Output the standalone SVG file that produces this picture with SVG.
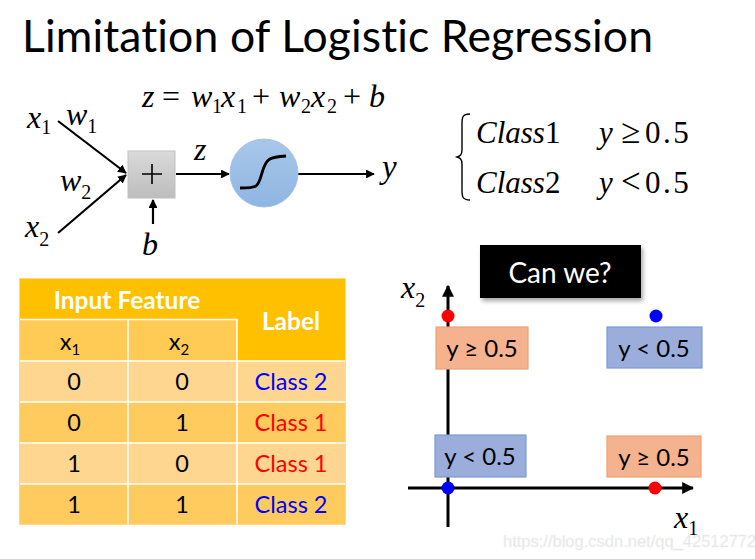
<svg xmlns="http://www.w3.org/2000/svg" width="755" height="559" viewBox="0 0 755 559">
  <style>
    text { font-variant-ligatures: none; }
    .math { font-family: "Liberation Serif", "DejaVu Serif", serif; font-style: italic; fill: #000; }
    .up { font-family: "Liberation Serif", "DejaVu Serif", serif; font-style: normal; }
    .sans { font-family: Lato, "Open Sans", sans-serif; }
    .hdr { font-family: Lato, "Open Sans", sans-serif; font-weight: bold; fill: #fff; font-size: 24.5px; text-anchor: middle; }
    .cell { font-family: Lato, "Open Sans", sans-serif; font-size: 23.5px; fill: #000; text-anchor: middle; }
    .cell.c1 { fill: #FF0000; }
    .cell.c2 { fill: #0000FF; }
    .wire { stroke: #000; stroke-width: 2.2; fill: none; }
    .axis { stroke: #000; stroke-width: 3; fill: none; }
    .lbl { font-family: Lato, "Open Sans", sans-serif; font-size: 24px; fill: #000; text-anchor: middle; }
    .orange { fill: #F4B28F; stroke: #F0A070; stroke-width: 1.2; }
    .blue { fill: #9AADDB; stroke: #7B9BD8; stroke-width: 1.2; }
    .num { letter-spacing: 2.5px; }
    .rel { font-size: 35px; }
  </style>
  <defs>
    <marker id="arrow" viewBox="0 0 10 10" refX="9" refY="5" markerWidth="4" markerHeight="4" orient="auto-start-reverse" markerUnits="strokeWidth">
      <path d="M0,0 L10,5 L0,10 z" fill="#000"/>
    </marker>
    <linearGradient id="gray" x1="0" y1="0" x2="0" y2="1">
      <stop offset="0" stop-color="#DADADA"/>
      <stop offset="1" stop-color="#BDBDBD"/>
    </linearGradient>
    <linearGradient id="sky" x1="0" y1="0" x2="0" y2="1">
      <stop offset="0" stop-color="#A8C8EA"/>
      <stop offset="1" stop-color="#8FB5E2"/>
    </linearGradient>
    <filter id="shadow" x="-10%" y="-10%" width="125%" height="140%">
      <feDropShadow dx="2" dy="3" stdDeviation="2" flood-color="#000" flood-opacity="0.35"/>
    </filter>
  </defs>

  <!-- title -->
  <text id="title" x="22" y="52" class="sans" font-size="44.5" fill="#000" textLength="631" lengthAdjust="spacing">Limitation of Logistic Regression</text>

  <!-- neuron formula: z = w1x1 + w2x2 + b -->
  <text class="math" y="107" font-size="32"><tspan x="142">z</tspan><tspan class="up" x="162">=</tspan><tspan x="191">w</tspan><tspan class="up" x="212" y="113" font-size="20">1</tspan><tspan x="221" y="107">x</tspan><tspan class="up" x="237" y="113" font-size="20">1</tspan><tspan class="up" x="252" y="107">+</tspan><tspan x="279">w</tspan><tspan class="up" x="301" y="113" font-size="20">2</tspan><tspan x="311" y="107">x</tspan><tspan class="up" x="327" y="113" font-size="20">2</tspan><tspan class="up" x="343" y="107">+</tspan><tspan x="369">b</tspan></text>

  <!-- neuron connectors -->
  <g id="connectors">
    <line class="wire" x1="58" y1="121" x2="126" y2="173" marker-end="url(#arrow)"/>
    <line class="wire" x1="58" y1="233" x2="126" y2="175" marker-end="url(#arrow)"/>
    <line class="wire" x1="153" y1="224" x2="153" y2="200" marker-end="url(#arrow)"/>
    <line class="wire" x1="176" y1="174" x2="229" y2="174" marker-end="url(#arrow)"/>
    <line class="wire" x1="298" y1="174" x2="374" y2="174" marker-end="url(#arrow)"/>
  </g>

  <g id="input-x1">
    <text class="math" x="27" y="128" font-size="32">x<tspan class="up" font-size="20" dy="6">1</tspan></text>
  </g>
  <g id="weight-w1">
    <text class="math" x="66" y="125" font-size="32">w<tspan class="up" font-size="20" dy="8">1</tspan></text>
  </g>
  <g id="weight-w2">
    <text class="math" x="60" y="191" font-size="32">w<tspan class="up" font-size="20" dy="8">2</tspan></text>
  </g>
  <g id="input-x2">
    <text class="math" x="25" y="237" font-size="32">x<tspan class="up" font-size="20" dy="9">2</tspan></text>
  </g>
  <g id="bias">
    <text class="math" x="142" y="255" font-size="32">b</text>
  </g>

  <g id="sum">
    <rect x="128" y="151" width="47" height="47" fill="url(#gray)" stroke="#BFBFBF" stroke-width="1"/>
    <path d="M152,164 V184 M142,174 H162" stroke="#000" stroke-width="1.6"/>
  </g>
  <text class="math" x="194" y="160" font-size="32">z</text>

  <g id="activation">
    <circle cx="264" cy="173" r="34" fill="url(#sky)" stroke="#A6C3E6" stroke-width="1"/>
    <path d="M240,188 C258,188 258,187 262,173 C266,158 270,157 286,156" fill="none" stroke="#000" stroke-width="2.8"/>
  </g>
  <g id="output-y">
    <text class="math" x="382" y="178" font-size="33">y</text>
  </g>

  <!-- decision rule -->
  <g id="rule">
    <path d="M470,114 C462,114 462,118 462,124 L462,150 C462,155 460,156 457,157 C460,158 462,159 462,164 L462,190 C462,196 462,200 470,200" fill="none" stroke="#000" stroke-width="1.4"/>
    <text class="math" x="476" y="143" font-size="31">Class<tspan class="up">1</tspan></text>
    <text class="math" y="143" font-size="31"><tspan x="599">y</tspan><tspan class="up rel" x="621">≥</tspan><tspan class="up num" x="645">0.5</tspan></text>
    <text class="math" x="476" y="193" font-size="31">Class<tspan class="up">2</tspan></text>
    <text class="math" y="193" font-size="31"><tspan x="599">y</tspan><tspan class="up rel" x="621">&lt;</tspan><tspan class="up num" x="645">0.5</tspan></text>
  </g>

  <!-- data table -->
  <g id="table">
    <rect x="20" y="279" width="325" height="82" fill="#FFC000"/>
    <rect x="20" y="320" width="217" height="41" fill="#FFCB54"/>
    <rect x="20" y="361" width="325" height="41" fill="#FFD68F"/>
    <rect x="20" y="402" width="325" height="41" fill="#FFCB5E"/>
    <rect x="20" y="443" width="325" height="41" fill="#FFD68F"/>
    <rect x="20" y="484" width="325" height="40" fill="#FFCB5E"/>
    <g stroke="#fff" stroke-width="1.5" fill="none">
      <path d="M20,319.5 H237 V361"/>
      <path d="M20,361 H345 M20,402 H345 M20,443 H345 M20,484 H345"/>
      <path d="M128,319.5 V524 M237,361 V524"/>
    </g>
    <g stroke="#FFD98A" stroke-width="1" fill="none">
      <rect x="19.5" y="278.5" width="326" height="246"/>
    </g>
    <text class="hdr" x="127" y="309">Input Feature</text>
    <text class="hdr" x="291" y="330">Label</text>
    <text class="cell" x="70" y="350">x<tspan font-size="15" dy="5">1</tspan></text>
    <text class="cell" x="179" y="350">x<tspan font-size="15" dy="5">2</tspan></text>
    <text class="cell" x="74" y="390">0</text>
    <text class="cell" x="182" y="390">0</text>
    <text class="cell c2" x="291" y="390">Class 2</text>
    <text class="cell" x="74" y="431">0</text>
    <text class="cell" x="182" y="431">1</text>
    <text class="cell c1" x="291" y="431">Class 1</text>
    <text class="cell" x="74" y="472">1</text>
    <text class="cell" x="182" y="472">0</text>
    <text class="cell c1" x="291" y="472">Class 1</text>
    <text class="cell" x="74" y="513">1</text>
    <text class="cell" x="182" y="513">1</text>
    <text class="cell c2" x="291" y="513">Class 2</text>
  </g>

  <!-- question callout -->
  <g id="can-we">
    <rect x="480" y="245" width="161" height="53" fill="#000" filter="url(#shadow)"/>
    <text x="560" y="283" class="sans" font-size="28" fill="#fff" text-anchor="middle">Can we?</text>
  </g>

  <!-- feature space -->
  <g id="axes">
    <line class="axis" x1="448" y1="527" x2="448" y2="286" marker-end="url(#arrow)"/>
    <line class="axis" x1="408" y1="488" x2="693" y2="488" marker-end="url(#arrow)"/>
    <text class="math" x="401" y="298" font-size="32">x<tspan class="up" font-size="20" dy="9">2</tspan></text>
    <text class="math" x="674" y="528" font-size="32">x<tspan class="up" font-size="20" dy="7">1</tspan></text>
  </g>

  <g id="point-01">
    <circle cx="448" cy="316" r="6.5" fill="#FF0000"/>
    <rect class="orange" x="436" y="327" width="92" height="42"/>
    <text class="lbl" x="482" y="357">y ≥ 0.5</text>
  </g>
  <g id="point-11">
    <circle cx="656" cy="316" r="6.5" fill="#0000FF"/>
    <rect class="blue" x="607" y="327" width="95" height="41"/>
    <text class="lbl" x="654" y="357">y &lt; 0.5</text>
  </g>
  <g id="point-00">
    <rect class="blue" x="435" y="435" width="91" height="42"/>
    <text class="lbl" x="480" y="465">y &lt; 0.5</text>
    <circle cx="448" cy="488" r="6.5" fill="#0000FF"/>
  </g>
  <g id="point-10">
    <rect class="orange" x="607" y="436" width="94" height="41"/>
    <text class="lbl" x="654" y="466">y ≥ 0.5</text>
    <circle cx="655" cy="488" r="6.5" fill="#FF0000"/>
  </g>

  <text x="503" y="547" font-family="Liberation Sans, Arial, sans-serif" font-size="16.5" fill="#E2E2E2" stroke="#F4F4F4" stroke-width="0.5">https://blog.csdn.net/qq_42512772</text>
</svg>
